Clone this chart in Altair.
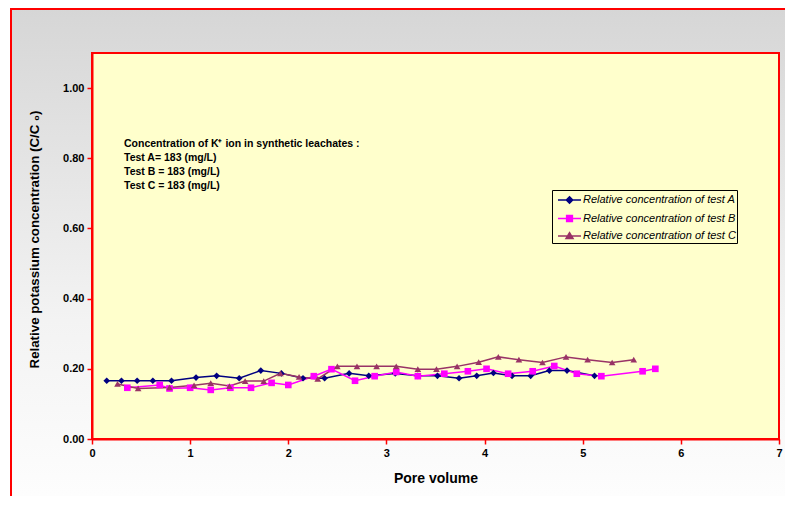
import altair as alt
import pandas as pd

# ---- data ----
a_x = [0.15, 0.30, 0.46, 0.62, 0.81, 1.06, 1.27, 1.50, 1.72, 1.93, 2.15, 2.37, 2.62,
       2.82, 3.09, 3.32, 3.52, 3.74, 3.92, 4.09, 4.28, 4.47, 4.66, 4.84, 5.12]
a_y = [0.166, 0.166, 0.166, 0.166, 0.166, 0.175, 0.180, 0.173, 0.195, 0.187, 0.173, 0.173, 0.187,
       0.180, 0.187, 0.180, 0.180, 0.173, 0.180, 0.188, 0.180, 0.180, 0.195, 0.195, 0.180]

b_x = [0.36, 0.69, 0.79, 1.00, 1.21, 1.41, 1.62, 1.83, 2.00, 2.26, 2.44, 2.68, 2.88,
       3.10, 3.32, 3.59, 3.83, 4.02, 4.24, 4.49, 4.71, 4.94, 5.19, 5.61, 5.74]
b_y = [0.146, 0.154, 0.144, 0.146, 0.140, 0.146, 0.146, 0.160, 0.154, 0.179, 0.199, 0.166, 0.179,
       0.191, 0.179, 0.186, 0.193, 0.200, 0.186, 0.193, 0.208, 0.186, 0.179, 0.193, 0.200]

c_x = [0.26, 0.47, 0.79, 1.04, 1.21, 1.40, 1.56, 1.75, 1.92, 2.11, 2.30, 2.50, 2.70,
       2.90, 3.10, 3.32, 3.51, 3.72, 3.94, 4.14, 4.35, 4.59, 4.83, 5.05, 5.30, 5.52]
c_y = [0.157, 0.144, 0.147, 0.153, 0.159, 0.151, 0.165, 0.165, 0.187, 0.177, 0.171, 0.207, 0.207,
       0.207, 0.207, 0.199, 0.199, 0.207, 0.219, 0.234, 0.226, 0.218, 0.234, 0.226, 0.218, 0.226]

series_names = ["Relative concentration of test A",
                "Relative concentration of test B",
                "Relative concentration of test C"]
series_colors = ["#000080", "#FF00FF", "#993366"]
series_shapes = ["diamond", "square", "triangle-up"]
legend_paths = ["M-0.5,0H2.375M0.94,-0.4L1.34,0L0.94,0.4L0.54,0Z",
                "M-0.5,0H2.375M0.58,-0.36H1.3V0.36H0.58Z",
                "M-0.5,0H2.375M0.94,-0.42L1.38,0.32H0.5Z"]

x_ticks = [0, 1, 2, 3, 4, 5, 6, 7]
y_ticks = [0.0, 0.2, 0.4, 0.6, 0.8, 1.0]

note_lines = ["Concentration of K\u207a ion in synthetic leachates :",
              "Test A= 183 (mg/L)",
              "Test B = 183 (mg/L)",
              "Test C = 183 (mg/L)"]

rows = []
for name, xs, ys in zip(series_names, [a_x, b_x, c_x], [a_y, b_y, c_y]):
    for xv, yv in zip(xs, ys):
        rows.append({"pv": xv, "cc": yv, "series": name})
df = pd.DataFrame(rows)

W, H = 687, 386
FONT = "Liberation Sans"

x_enc = alt.X("pv:Q", scale=alt.Scale(domain=[0, 7], nice=False),
              axis=alt.Axis(values=x_ticks, format="d", title="Pore volume",
                            titlePadding=13, titleFontSize=14, zindex=5, grid=False,
                            labelFlush=False))
y_enc = alt.Y("cc:Q", scale=alt.Scale(domain=[0, 1.1], nice=False),
              axis=alt.Axis(values=y_ticks, format=".2f",
                            title="Relative potassium concentration (C/C \u2080)",
                            titlePadding=21, titleFontSize=13.3, titleY=186,
                            zindex=5, grid=False, labelFlush=False))
color_enc = alt.Color("series:N", scale=alt.Scale(domain=series_names, range=series_colors),
                      legend=None)

one = alt.Data(values=[{"k": 0}])

# decorative chart-area frame with gradient
frame = alt.Chart(one).mark_rect(
    fill=alt.Gradient(gradient="linear", x1=0, y1=0, x2=0, y2=1,
                      stops=[alt.GradientStop(offset=0, color="#D6D6D6"),
                             alt.GradientStop(offset=0.6, color="#F3F3F3"),
                             alt.GradientStop(offset=1, color="#FFFFFF")]),
    stroke="#FF0000", strokeWidth=2, clip=False
).encode(x=alt.value(-81), x2=alt.value(W + 40), y=alt.value(-44), y2=alt.value(H + 90))

plotbg = alt.Chart(one).mark_rect(fill="#FFFFCC", stroke="#FF0000", strokeWidth=2).encode(
    x=alt.value(0), x2=alt.value(W), y=alt.value(0), y2=alt.value(H))

base = alt.Chart(df).encode(x=x_enc, y=y_enc, color=color_enc)

lines = base.mark_line(strokeWidth=1.5)
points = base.mark_point(filled=True, opacity=1, size=44).encode(
    shape=alt.Shape("series:N", scale=alt.Scale(domain=series_names, range=series_shapes),
                    legend=None))

LX, LY = 460, 137
legend_layer = alt.Chart(df).transform_filter("false").mark_point(
    filled=True, opacity=1, strokeWidth=1.5).encode(
    x=alt.X("pv:Q"), y=alt.Y("cc:Q"),
    fill=alt.Fill("series:N", scale=alt.Scale(domain=series_names, range=series_colors),
                  legend=alt.Legend(title=None, orient="none", legendX=LX, legendY=LY,
                                    fillColor="#FFFFCC", strokeColor="#000000",
                                    padding=1, rowPadding=2.5, symbolSize=256,
                                    symbolStrokeWidth=1.5, labelFontSize=11,
                                    labelFont=FONT, labelFontStyle="italic",
                                    labelColor="#000000", labelOffset=12,
                                    labelLimit=400,
                                    labelExpr="datum.label + '\u00a0\u00a0\u00a0\u00a0\u00a0\u00a0'")),
    stroke=alt.Stroke("series:N", scale=alt.Scale(domain=series_names, range=series_colors),
                      legend=alt.Legend(title=None, orient="none", legendX=LX, legendY=LY)),
    shape=alt.Shape("series:N", scale=alt.Scale(domain=series_names, range=legend_paths),
                    legend=alt.Legend(title=None, orient="none", legendX=LX, legendY=LY)),
)

note = alt.Chart(one).mark_text(
    text=note_lines, align="left", baseline="top", font=FONT, fontSize=10.5,
    fontWeight="bold", lineHeight=14, color="#000000"
).encode(x=alt.value(32), y=alt.value(86))

chart = alt.layer(frame, plotbg, lines, points, legend_layer, note).resolve_scale(
    shape="independent", fill="independent", stroke="independent"
).properties(
    width=W, height=H, autosize="none", background="#FFFFFF",
    padding={"left": 84, "top": 45, "right": 6, "bottom": 57},
).configure_view(stroke=None, fill=None).configure_axis(
    domainColor="#FF0000", domainWidth=2, tickColor="#FF0000", tickSize=5, tickWidth=1.5,
    grid=False, labelFont=FONT, labelFontSize=11, labelFontWeight="bold", labelColor="#000000",
    titleFont=FONT, titleFontWeight="bold", titleColor="#000000", labelPadding=3
)

chart.save("out.html", embed_options={"renderer": "svg", "actions": False})
